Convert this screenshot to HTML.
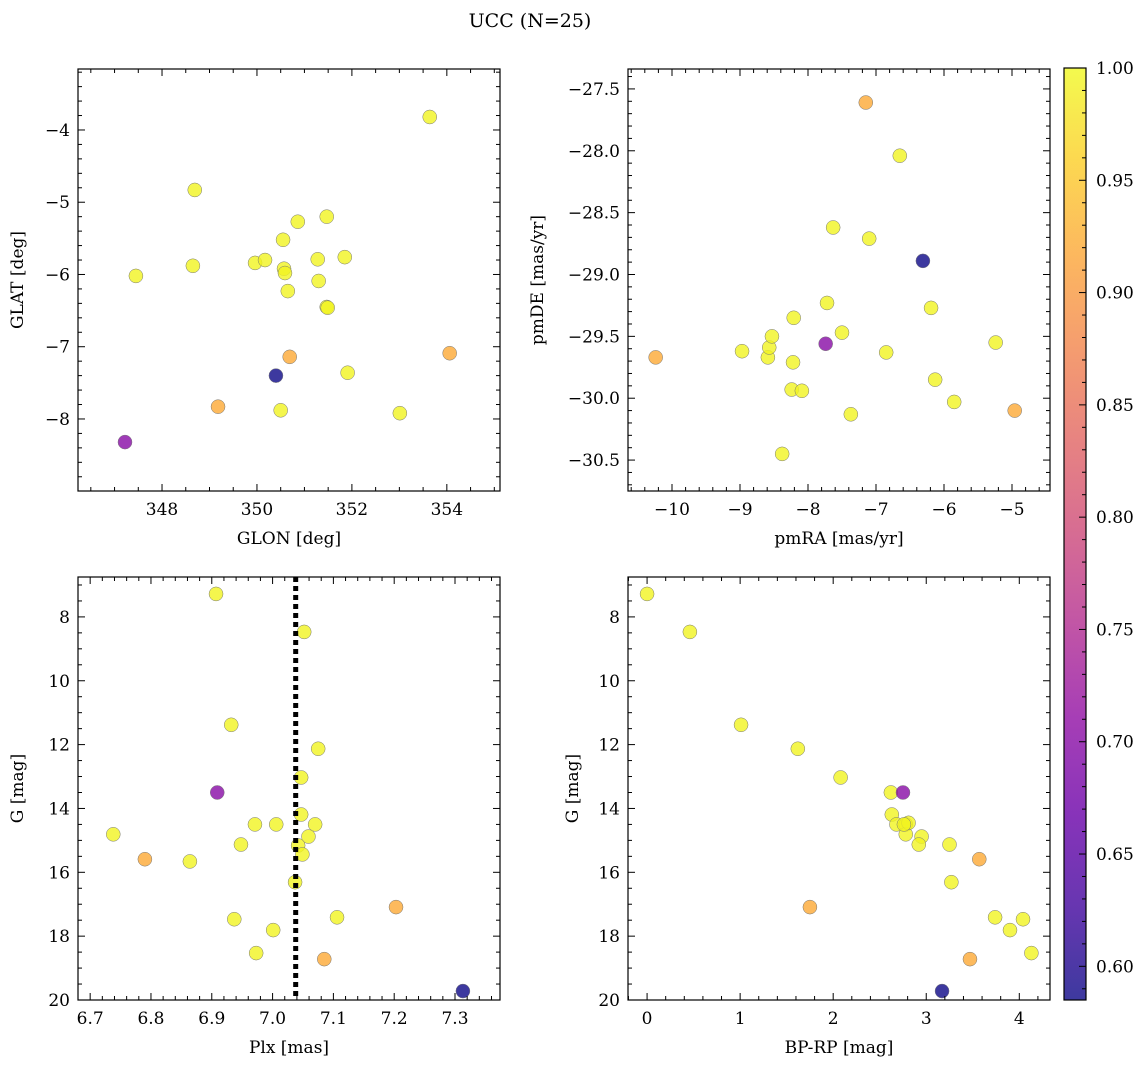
<!DOCTYPE html>
<html><head><meta charset="utf-8"><style>
body{margin:0;background:#fff;}
svg text{font-family:"DejaVu Serif","Liberation Serif",serif;fill:#000;}
</style></head><body>
<svg id="fig" width="1148" height="1068" xmlns="http://www.w3.org/2000/svg">
<text x="530" y="27" font-size="19" text-anchor="middle">UCC (N=25)</text>
</svg>
<script>
// ---- data ----
const p1_glon=[347.45,348.69,348.65,347.22,349.18,349.96,350.17,350.40,350.50,350.55,350.57,350.59,350.65,350.69,350.86,351.28,351.30,351.47,351.47,351.49,351.85,351.91,353.01,353.64,354.06];
const p1_glat=[-6.02,-4.83,-5.88,-8.32,-7.83,-5.84,-5.80,-7.40,-7.88,-5.52,-5.92,-5.98,-6.23,-7.14,-5.27,-5.79,-6.09,-5.20,-6.45,-6.46,-5.76,-7.36,-7.92,-3.82,-7.09];
const p1_prob=[0.995,0.995,0.995,0.70,0.92,0.995,0.995,0.585,0.995,0.995,0.995,0.995,0.995,0.92,0.995,0.995,0.995,0.995,0.995,0.995,0.995,0.995,0.995,0.995,0.92];
const p2_pmra=[-10.24,-8.97,-8.59,-8.57,-8.53,-8.21,-8.22,-8.24,-8.09,-7.72,-7.63,-7.74,-7.50,-7.37,-7.15,-7.10,-6.85,-6.65,-6.31,-6.19,-6.13,-5.85,-5.24,-4.96,-8.38];
const p2_pmde=[-29.67,-29.62,-29.67,-29.59,-29.50,-29.35,-29.71,-29.93,-29.94,-29.23,-28.62,-29.56,-29.47,-30.13,-27.61,-28.71,-29.63,-28.04,-28.89,-29.27,-29.85,-30.03,-29.55,-30.10,-30.45];
const p2_prob=[0.92,0.995,0.995,0.995,0.995,0.995,0.995,0.995,0.995,0.995,0.995,0.70,0.995,0.995,0.92,0.995,0.995,0.995,0.585,0.995,0.995,0.995,0.995,0.92,0.995];
const p3_plx=[6.907,7.052,6.932,7.075,7.047,6.909,6.738,7.047,6.971,7.006,7.070,7.059,6.948,7.042,6.790,6.864,7.037,6.937,7.106,7.203,7.001,6.973,7.085,7.313,7.049];
const p3_g=[7.28,8.47,11.38,12.13,13.03,13.50,14.81,14.19,14.50,14.50,14.50,14.88,15.13,15.16,15.59,15.66,16.31,17.47,17.41,17.09,17.81,18.53,18.72,19.72,15.44];
const p3_prob=[0.995,0.995,0.995,0.995,0.995,0.70,0.995,0.995,0.995,0.995,0.995,0.995,0.995,0.995,0.92,0.995,0.995,0.995,0.995,0.92,0.995,0.995,0.92,0.585,0.995];
const p4_bprp=[0.00,0.46,1.01,1.62,2.08,2.62,2.75,2.63,2.68,2.78,2.78,2.95,2.92,3.25,3.57,3.27,1.75,3.74,4.04,3.90,4.13,3.47,3.17,2.81,2.76];
const p4_g=[7.28,8.47,11.38,12.13,13.03,13.50,13.50,14.19,14.50,14.50,14.81,14.88,15.13,15.13,15.59,16.31,17.09,17.41,17.47,17.81,18.53,18.72,19.72,14.45,14.50];
const p4_prob=[0.995,0.995,0.995,0.995,0.995,0.995,0.70,0.995,0.995,0.995,0.995,0.995,0.995,0.995,0.92,0.995,0.92,0.995,0.995,0.995,0.995,0.92,0.585,0.995,0.995];
const plxLine=7.038;
const cbTicks=[0.60,0.65,0.70,0.75,0.80,0.85,0.90,0.95,1.00];
const vmin=0.585, vmax=1.0;

const NS="http://www.w3.org/2000/svg";
const svg=document.getElementById('fig');
function mk(tag,attrs,parent){const e=document.createElementNS(NS,tag);for(const k in attrs)e.setAttribute(k,attrs[k]);(parent||svg).appendChild(e);return e;}
const stops=[[0,[13,8,135]],[0.1,[65,4,157]],[0.2,[106,0,168]],[0.3,[143,13,164]],[0.4,[177,42,144]],[0.5,[204,71,120]],[0.6,[225,100,98]],[0.7,[242,132,75]],[0.8,[252,166,54]],[0.9,[252,206,37]],[1,[240,249,33]]];
function plasma(t){t=Math.max(0,Math.min(1,t));for(let i=1;i<stops.length;i++){if(t<=stops[i][0]){const a=stops[i-1],b=stops[i],f=(t-a[0])/(b[0]-a[0]);const c=a[1].map((v,j)=>Math.round(v+(b[1][j]-v)*f));return `rgb(${c[0]},${c[1]},${c[2]})`;}}return 'rgb(240,249,33)';}
function col(p){return plasma((p-vmin)/(vmax-vmin));}

function panel(cfg){
  const g=mk('g',{});
  
  
  const {x0,x1,y0,y1,xmin,xmax,ymin,ymax}=cfg;
  const sx=v=>x0+(v-xmin)/(xmax-xmin)*(x1-x0);
  const sy=v=>y1-(v-ymin)/(ymax-ymin)*(y1-y0);
  for(let i=0;i<cfg.xs.length;i++){
    const c=mk('circle',{cx:sx(cfg.xs[i]),cy:sy(cfg.ys[i]),r:7,fill:col(cfg.ps[i]),'fill-opacity':0.8,stroke:'#777','stroke-width':0.5},g);
    
    
  }
  if(cfg.vline!==undefined){
    const l=mk('line',{x1:sx(cfg.vline),x2:sx(cfg.vline),y1:y0,y2:y1,stroke:'#000','stroke-width':5,'stroke-dasharray':'5,4'},g);
    
    
  }
  const fr=mk('rect',{x:x0,y:y0,width:x1-x0,height:y1-y0,fill:'none',stroke:'#000','stroke-width':1.2},g);
  
  
  const eps=1e-9;
  for(let k=Math.ceil(xmin/cfg.xminor-eps);k*cfg.xminor<=xmax+eps;k++){
    const v=k*cfg.xminor;
    const X=sx(v);const major=Math.abs(v/cfg.xmajor-Math.round(v/cfg.xmajor))<1e-6;const L=major?7:4;
    mk('line',{x1:X,x2:X,y1:y1,y2:y1-L,stroke:'#000'},g);mk('line',{x1:X,x2:X,y1:y0,y2:y0+L,stroke:'#000'},g);
    if(major){const t=mk('text',{x:X,y:y1+24,'font-size':17,'text-anchor':'middle'},g);t.textContent=cfg.xfmt(v);
      }
  }
  for(let k=Math.ceil(ymin/cfg.yminor-eps);k*cfg.yminor<=ymax+eps;k++){
    const v=k*cfg.yminor;
    const Y=sy(v);const major=Math.abs(v/cfg.ymajor-Math.round(v/cfg.ymajor))<1e-6;const L=major?7:4;
    mk('line',{x1:x0,x2:x0+L,y1:Y,y2:Y,stroke:'#000'},g);mk('line',{x1:x1,x2:x1-L,y1:Y,y2:Y,stroke:'#000'},g);
    if(major){const t=mk('text',{x:x0-8,y:Y+6,'font-size':17,'text-anchor':'end'},g);t.textContent=cfg.yfmt(v);
      }
  }
  const xl=mk('text',{x:(x0+x1)/2,y:y1+53,'font-size':17,'text-anchor':'middle'},g);xl.textContent=cfg.xlabel;
  
  const yx=cfg.ylx,yy=(y0+y1)/2;
  const yl=mk('text',{x:yx,y:yy,'font-size':17,'text-anchor':'middle',transform:`rotate(-90 ${yx} ${yy})`},g);yl.textContent=cfg.ylabel;
  
}
const neg=s=>s.replace('-','\u2212');
const fmt0=v=>neg(Math.round(v).toString());
panel({name:'glon-glat-panel',x0:78,x1:500,y0:69,y1:491,xmin:346.23,xmax:355.12,ymin:-8.997,ymax:-3.156,xs:p1_glon,ys:p1_glat,ps:p1_prob,
  xmajor:2,xminor:0.5,ymajor:1,yminor:0.2,xfmt:fmt0,yfmt:fmt0,xlabel:'GLON [deg]',ylabel:'GLAT [deg]',ylx:23});
panel({name:'pm-panel',x0:628,x1:1050,y0:69,y1:491,xmin:-10.647,xmax:-4.441,ymin:-30.75,ymax:-27.339,xs:p2_pmra,ys:p2_pmde,ps:p2_prob,
  xmajor:1,xminor:0.2,ymajor:0.5,yminor:0.1,xfmt:fmt0,yfmt:v=>neg(v.toFixed(1)),xlabel:'pmRA [mas/yr]',ylabel:'pmDE [mas/yr]',ylx:543});
panel({name:'plx-g-panel',x0:78,x1:500,y0:577,y1:1000,xmin:6.680,xmax:7.374,ymin:-20,ymax:-6.75,xs:p3_plx,ys:p3_g.map(v=>-v),ps:p3_prob,vline:plxLine,
  xmajor:0.1,xminor:0.02,ymajor:2,yminor:0.5,xfmt:v=>v.toFixed(1),yfmt:v=>Math.round(-v).toString(),xlabel:'Plx [mas]',ylabel:'G [mag]',ylx:23});
panel({name:'cmd-panel',x0:628,x1:1050,y0:577,y1:1000,xmin:-0.205,xmax:4.33,ymin:-20,ymax:-6.75,xs:p4_bprp,ys:p4_g.map(v=>-v),ps:p4_prob,
  xmajor:1,xminor:0.2,ymajor:2,yminor:0.5,xfmt:fmt0,yfmt:v=>Math.round(-v).toString(),xlabel:'BP-RP [mag]',ylabel:'G [mag]',ylx:578});
const cb=mk('g',{});


const defs=mk('defs',{},cb);
const grad=mk('linearGradient',{id:'pl',x1:0,y1:1,x2:0,y2:0},defs);
for(let i=0;i<=20;i++){mk('stop',{offset:i/20,'stop-color':plasma(i/20),'stop-opacity':0.8},grad);}
const cbx0=1064,cbx1=1086,cby0=68,cby1=1000;
mk('rect',{x:cbx0,y:cby0,width:cbx1-cbx0,height:cby1-cby0,fill:'url(#pl)',stroke:'#000','stroke-width':1.2},cb);
const cy=v=>cby1-(v-vmin)/(vmax-vmin)*(cby1-cby0);
for(let k=59;k<=100;k++){const v=k/100;const Y=cy(v);const major=k%5===0;
  mk('line',{x1:cbx1,x2:cbx1-(major?7:4),y1:Y,y2:Y,stroke:'#000'},cb);}
for(const v of cbTicks){const t=mk('text',{x:1096,y:cy(v)+6,'font-size':17},cb);t.textContent=v.toFixed(2);
  }
</script>
</body></html>
